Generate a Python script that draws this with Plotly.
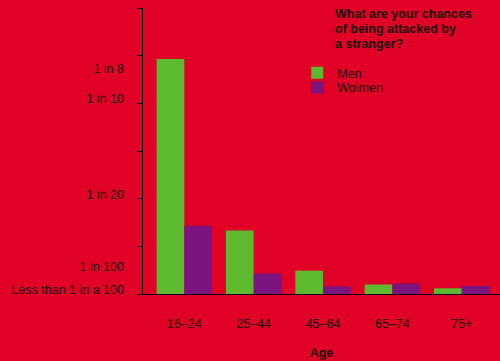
import plotly.graph_objects as go

# Age groups on the x axis
age_groups = ["16–24", "25–44", "45–64", "65–74", "75+"]

# Bar heights on the chart's risk scale (0 = baseline, 6 = top of axis)
men_risk = [4.93, 1.33, 0.49, 0.20, 0.12]
women_risk = [1.43, 0.43, 0.16, 0.22, 0.17]

# Risk labels down the left side and where they sit on the scale
risk_labels = ["1 in 8", "1 in 10", "1 in 20", "1 in 100", "Less than 1 in a 100"]
risk_label_pos = [4.72, 4.09, 2.08, 0.58, 0.09]

# Evenly spaced tick marks on the vertical axis
risk_ticks = [0, 1, 2, 3, 4, 5, 6]

title_lines = ["What are your chances", "of being attacked by", "a stranger?"]

RED = "#E10026"
GREEN = "#5DB92E"
PURPLE = "#7B1480"
INK = "#1c0a0c"
FONT = "Liberation Sans, Arial, Helvetica, sans-serif"

fig = go.Figure()
fig.add_trace(go.Bar(x=age_groups, y=men_risk, name="Men",
                     marker=dict(color=GREEN, line=dict(width=0)),
                     legend="legend"))
fig.add_trace(go.Bar(x=age_groups, y=women_risk, name="Woimen",
                     marker=dict(color=PURPLE, line=dict(width=0)),
                     legend="legend2"))

# Hidden helper trace so the label axis is laid out
fig.add_trace(go.Scatter(x=[age_groups[0]], y=[0], yaxis="y2", mode="markers",
                         marker=dict(opacity=0), showlegend=False,
                         hoverinfo="skip"))

fig.update_layout(
    width=500, height=361,
    margin=dict(l=143, r=0, t=8, b=67),
    paper_bgcolor=RED, plot_bgcolor=RED,
    font=dict(family=FONT, size=12.5, color=INK),
    barmode="group", bargap=0.2, bargroupgap=0,
    xaxis=dict(
        type="category", range=[-0.596, 4.552],
        showline=True, linecolor="black", linewidth=1,
        showgrid=False, zeroline=False, ticks="",
        ticklabelstandoff=18,
        tickfont=dict(size=12.5, color=INK),
        title=dict(text="<b>Age</b>", font=dict(size=12.5, color=INK),
                   standoff=18),
    ),
    yaxis=dict(
        range=[0, 6], tickvals=risk_ticks, showticklabels=False,
        ticks="outside", ticklen=5, tickcolor="black", tickwidth=1,
        showline=True, linecolor="black", linewidth=1,
        showgrid=False, zeroline=False,
    ),
    yaxis2=dict(
        overlaying="y", side="left", range=[0, 6],
        tickvals=risk_label_pos, ticktext=risk_labels,
        ticks="", showline=False, showgrid=False, zeroline=False,
        ticklabelstandoff=18,
        tickfont=dict(size=12.5, color=INK),
    ),
    legend=dict(x=0.432, y=0.7727, xanchor="left", yanchor="middle",
                bgcolor="rgba(0,0,0,0)", font=dict(size=12.5, color=INK)),
    legend2=dict(x=0.432, y=0.7203, xanchor="left", yanchor="middle",
                 bgcolor="rgba(0,0,0,0)", font=dict(size=12.5, color=INK)),
)

title_y = [0.979, 0.9266, 0.874]
for line, ty in zip(title_lines, title_y):
    fig.add_annotation(text=f"<b>{line}</b>", xref="paper", yref="paper",
                       x=0.533, y=ty, xanchor="left", yanchor="middle",
                       showarrow=False, font=dict(size=12.5, color=INK))

fig.write_html("out.html")
